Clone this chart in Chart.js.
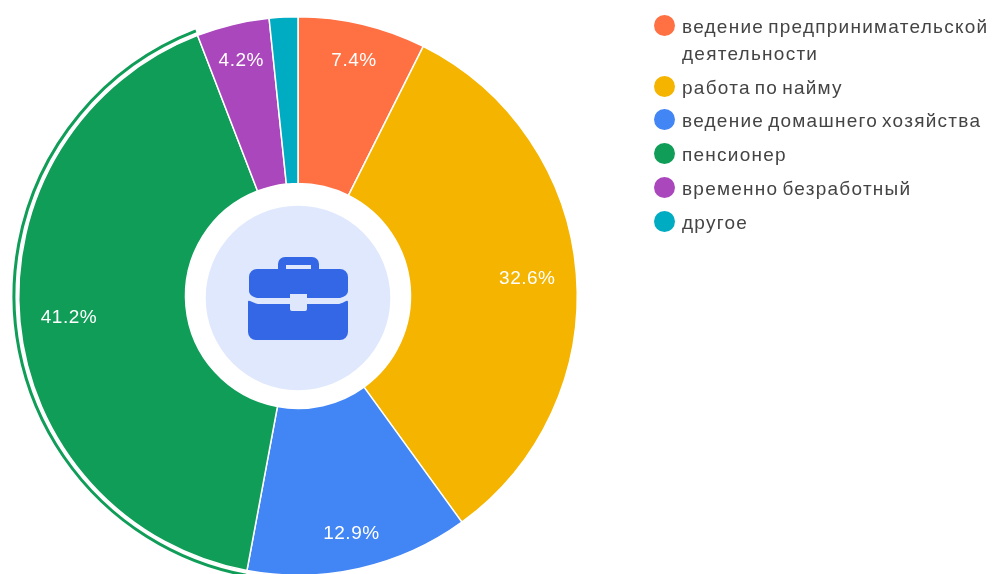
<!DOCTYPE html>
<html><head><meta charset="utf-8">
<style>
html,body{margin:0;padding:0;background:#fff;width:992px;height:574px;overflow:hidden}
#wrap{position:relative;width:992px;height:574px;overflow:hidden;filter:blur(0.4px)}
canvas{position:absolute;left:0;top:0}
#icon{position:absolute;left:0;top:0;width:992px;height:574px}
#legend{position:absolute;left:0;top:0;font-family:"Liberation Sans",Arial,sans-serif;font-size:19px;letter-spacing:1.25px;word-spacing:-2.5px;color:#444}
.dot{position:absolute;left:653.5px;width:21px;height:21px;border-radius:50%}
.txt{position:absolute;left:682px;white-space:nowrap;line-height:27px}
</style></head><body>
<div id="wrap">
<div style="width:992px;height:600px;position:absolute"><canvas id="c" width="992" height="600"></canvas></div>
<svg id="icon" viewBox="0 0 992 574">
<path fill="#3367e6" fill-rule="evenodd" d="M278 269v-5a7 7 0 0 1 7-7h27a7 7 0 0 1 7 7v5h21a8 8 0 0 1 8 8v14q0 5-8 7h-33v-4h-17v4h-33q-8-2-8-7v-14a8 8 0 0 1 8-8zM286 265v4h25v-4z"/>
<path fill="#3367e6" d="M248 302q0-2 2-1q4 2 8 3h32v3a4 4 0 0 0 4 4h9a4 4 0 0 0 4-4v-3h32q4-1 7-3q2-1 2 1v30a8 8 0 0 1-8 8h-84a8 8 0 0 1-8-8z"/>
<rect x="290" y="294" width="17" height="17" rx="2" fill="#dfe7fc"/>
</svg>
<div id="legend"></div>
</div>
<script src="https://cdn.jsdelivr.net/npm/chart.js@4"></script>
<script>
const categories=["ведение предпринимательской деятельности","работа по найму","ведение домашнего хозяйства","пенсионер","временно безработный","другое"];
const legendLines=[["ведение предпринимательской","деятельности"],["работа по найму"],["ведение домашнего хозяйства"],["пенсионер"],["временно безработный"],["другое"]];
const values=[7.4,32.6,12.9,41.2,4.2,1.65];
const colors=["#ff7043","#f5b400","#4285f4","#0f9d58","#ab47bc","#00acc1"];
const sliceLabels=["7.4%","32.6%","12.9%","41.2%","4.2%",""];
const highlighted=3;

const legendY=[25,86,119.5,153,187,221];
const lg=document.getElementById('legend');
legendLines.forEach((lines,i)=>{
  const d=document.createElement('div');d.className='dot';d.style.background=colors[i];d.style.top=(legendY[i]-10.5)+'px';lg.appendChild(d);
  lines.forEach((t,j)=>{
    const s=document.createElement('div');s.className='txt';s.textContent=t;s.style.top=(legendY[i]-12.5+j*27)+'px';lg.appendChild(s);
  });
});

const decor={
  id:'decor',
  afterDatasetsDraw(chart){
    const ctx=chart.ctx,arcs=chart.getDatasetMeta(0).data;
    const a=arcs[highlighted];
    ctx.save();
    ctx.strokeStyle=colors[highlighted];ctx.lineWidth=3;
    ctx.beginPath();ctx.arc(a.x,a.y,a.outerRadius+4.8,a.startAngle,a.endAngle);ctx.stroke();
    ctx.fillStyle='#e0e8fd';
    ctx.beginPath();ctx.arc(a.x,a.y+2,92.3,0,Math.PI*2);ctx.fill();
    ctx.fillStyle='#fff';ctx.textAlign='center';ctx.textBaseline='middle';
    ctx.font='19px "Liberation Sans",Arial,sans-serif';
    ctx.letterSpacing='0.5px';
    arcs.forEach((el,i)=>{
      if(!sliceLabels[i])return;
      const mid=(el.startAngle+el.endAngle)/2;
      const r=values[i]>20?230:243;
      ctx.fillText(sliceLabels[i],el.x+Math.cos(mid)*r,el.y+Math.sin(mid)*r+1);
    });
    ctx.restore();
  }
};

new Chart(document.getElementById('c'),{
  type:'doughnut',
  data:{labels:categories,datasets:[{data:values,backgroundColor:colors,borderColor:'#fff',borderWidth:1.5,hoverOffset:0}]},
  options:{
    responsive:false,animation:false,cutout:112.5,
    layout:{padding:{left:18,right:414,top:16,bottom:24}},
    plugins:{legend:{display:false},tooltip:{enabled:false}},
    events:[]
  },
  plugins:[decor]
});
</script>
</body></html>
